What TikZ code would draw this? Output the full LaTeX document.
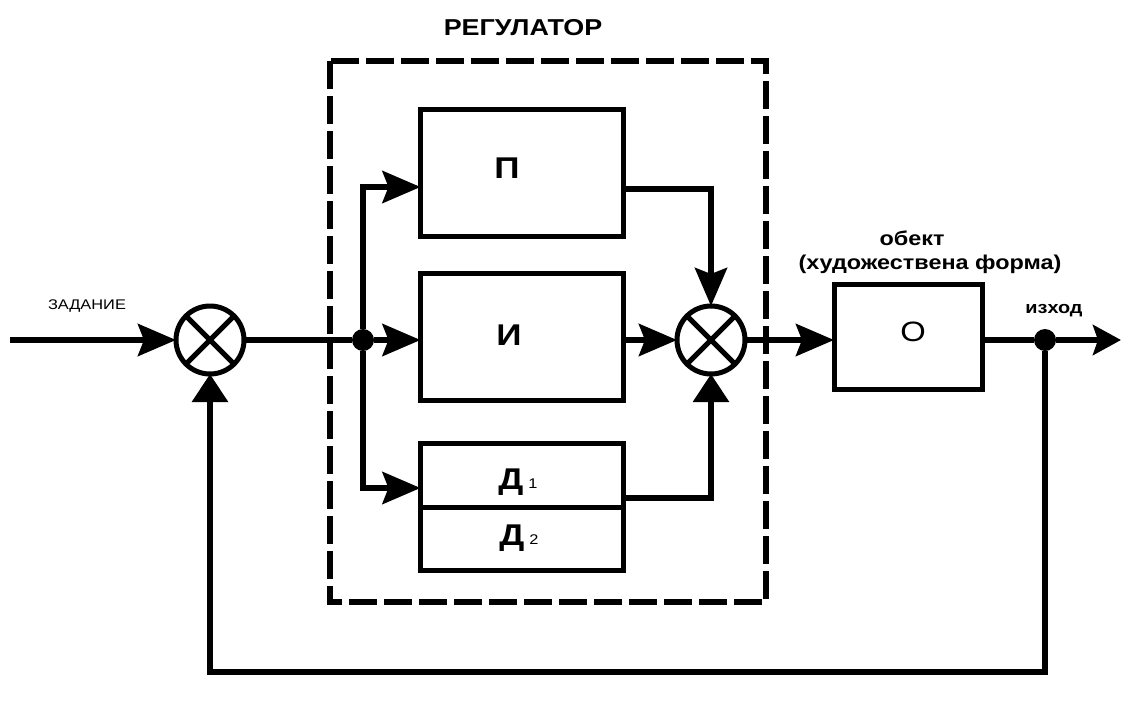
\documentclass[tikz,border=0pt]{standalone}
\usepackage{fontspec}
\setmainfont{Liberation Sans}[FakeStretch=1.17]
\usetikzlibrary{arrows.meta}

\newcommand{\dind}[1]{\,\raisebox{1pt}{\fontsize{14}{14}\selectfont\mdseries #1}}

\tikzset{
    blk/.style={draw, line width=5pt, minimum width=203pt, minimum height=127pt, inner sep=0pt, outer sep=0pt},
    sumj/.style={draw, circle, line width=5pt, minimum size=68pt, inner sep=0pt, outer sep=0pt},
    dot/.style={circle, fill, minimum size=22pt, inner sep=0pt},
    wire/.style={line width=6pt},
    arr/.style={wire, -{Stealth[length=38pt, width=32pt, inset=6pt]}},
    uparr/.style={wire, -{Triangle[length=28pt, width=35pt]}},
    lbl/.style={anchor=base, inner sep=0pt, font=\bfseries\fontsize{30}{30}\selectfont},
    txt/.style={anchor=base, inner sep=0pt},
}

\begin{document}
\begin{tikzpicture}[x=1pt, y=-1pt]
    \useasboundingbox (0,0) rectangle (1122,702);

    % regulator frame
    \draw[line width=6pt, dash pattern=on 28pt off 7pt] (330,61) rectangle (766,602);
    \node[txt, font=\bfseries\fontsize{23}{23}\selectfont] (reg) at (523,35) {РЕГУЛАТОР};

    \node[sumj] (s1) at (210,340) {};
    \node[sumj] (s2) at (711,340) {};
    \draw[line width=5pt] (s1.45) -- (s1.225) (s1.135) -- (s1.-45);
    \draw[line width=5pt] (s2.45) -- (s2.225) (s2.135) -- (s2.-45);

    \node[blk] (p) at (522,173) {};
    \node[blk] (i) at (522,337) {};
    \node[blk] (d) at (522,507) {};
    \draw[line width=5pt] (d.west) -- (d.east);
    \node[blk, minimum width=148pt, minimum height=105pt] (o) at (908,337) {};

    \node[lbl] (pl) at (507,178) {П};
    \node[lbl] (il) at (509,345) {И};
    \node[lbl] (d1l) at (518,489) {Д\dind{1}};
    \node[lbl] (d2l) at (519,545) {Д\dind{2}};
    \node[txt, font=\fontsize{28}{28}\selectfont] (ol) at (913,341) {О};

    \node[dot] (br) at (363,340) {};
    \node[dot] (dout) at (1045,340) {};
    \coordinate (in) at (10,340);
    \coordinate (out) at (1121,340);

    \node[txt, font=\fontsize{14}{14}\selectfont] (zad) at (87,309) {ЗАДАНИЕ};
    \node[txt, font=\bfseries\fontsize{20}{20}\selectfont] (obj) at (912,245) {обект};
    \node[txt, font=\bfseries\fontsize{20}{20}\selectfont] (objf) at (930,269) {(художествена форма)};
    \node[txt, font=\bfseries\fontsize{17}{17}\selectfont] (izh) at (1054,313) {изход};

    \draw[arr] (in) -- (s1.west);
    \draw[wire] (s1.east) -- (br);
    \draw[arr] (br) |- ([yshift=-14pt]p.west);
    \draw[arr] (br) -- (i.west |- br);
    \draw[arr] (br) |- ([yshift=19pt]d.west);

    \draw[arr] ([yshift=-16pt]p.east) -| (s2.north);
    \draw[arr] (i.east |- s2) -- (s2.west);
    \draw[uparr] ([yshift=9pt]d.east) -| (s2.south);

    \draw[arr] (s2.east) -- (o.west |- s2);
    \draw[wire] (o.east |- dout) -- (dout);
    \draw[wire, -{Stealth[length=28pt, width=30pt, inset=5pt]}] (dout) -- (out);
    \draw[uparr] (dout) -- ++(0,332) -| (s1.south);
\end{tikzpicture}
\end{document}
